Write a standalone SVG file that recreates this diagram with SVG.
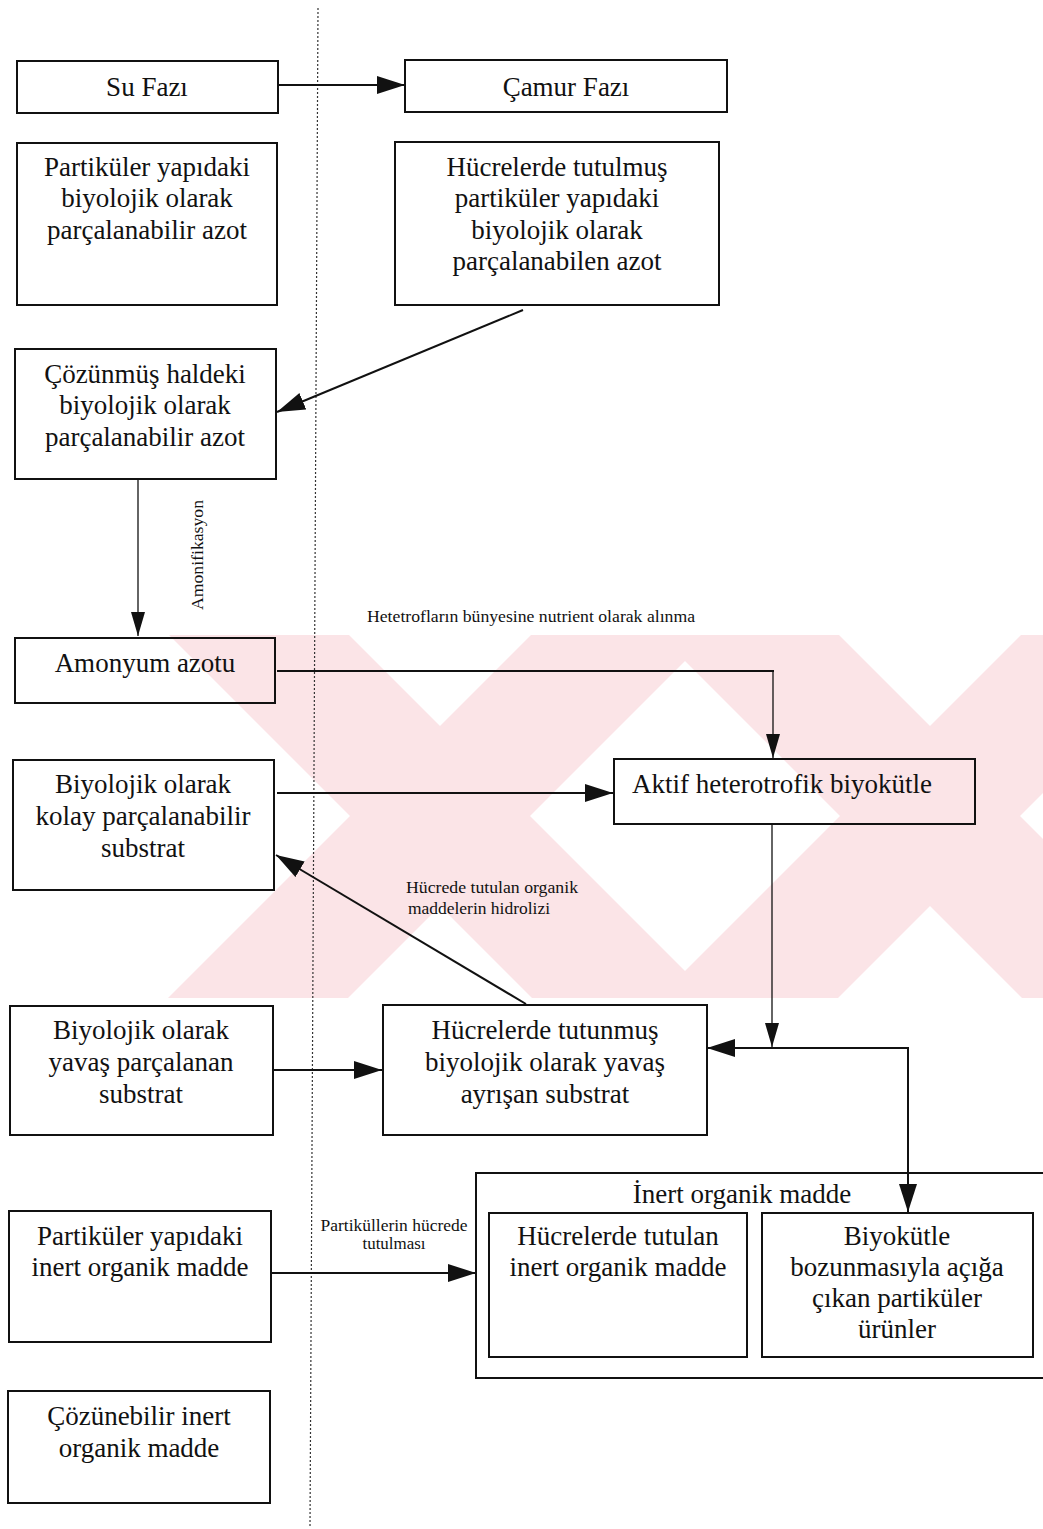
<svg xmlns="http://www.w3.org/2000/svg" width="1043" height="1529" viewBox="0 0 1043 1529">
  <style>
    .box { fill: none; stroke: #111; stroke-width: 2; }
    .t { font-family: "Liberation Serif", "Times New Roman", serif; font-size: 27px; fill: #111; text-anchor: middle; }
    .tl { font-family: "Liberation Serif", "Times New Roman", serif; font-size: 27px; fill: #111; }
    .s { font-family: "Liberation Serif", "Times New Roman", serif; font-size: 16px; fill: #111; }
    .c { fill: none; stroke: #111; stroke-width: 2; }
    .cn { fill: none; stroke: #111; stroke-width: 1.3; }
    .wm { fill: #fbe4e7; }
  </style>
  <defs>
    <marker id="big" markerUnits="userSpaceOnUse" markerWidth="30" markerHeight="20" refX="28" refY="9" orient="auto-start-reverse">
      <path d="M0,0 L28,9 L0,18 Z" fill="#111"/>
    </marker>
    <marker id="thin" markerUnits="userSpaceOnUse" markerWidth="26" markerHeight="16" refX="24" refY="7" orient="auto">
      <path d="M0,0 L24,7 L0,14 Z" fill="#111"/>
    </marker>
    <clipPath id="band">
      <rect x="0" y="635" width="1043" height="363"/>
    </clipPath>
  </defs>

  <rect width="1043" height="1529" fill="#fff"/>

  <!-- faint background mark: two crossed pairs of bars -->
  <g id="watermark" clip-path="url(#band)">
    <polygon class="wm" points="169,635 349,635 712,998 532,998"/>
    <polygon class="wm" points="531,635 711,635 348,998 168,998"/>
    <polygon class="wm" points="659,635 839,635 1202,998 1022,998"/>
    <polygon class="wm" points="1021,635 1201,635 838,998 658,998"/>
  </g>

  <!-- phase divider -->
  <line x1="318" y1="8" x2="310" y2="1527" stroke="#333" stroke-width="1.2" stroke-dasharray="2 2"/>

  <g id="su-fazi">
    <rect class="box" x="17" y="61" width="261" height="52"/>
    <text class="t" x="147" y="96">Su Fazı</text>
  </g>
  <g id="camur-fazi">
    <rect class="box" x="405" y="60" width="322" height="52"/>
    <text class="t" x="566" y="96">Çamur Fazı</text>
  </g>

  <g id="partikuler-azot">
    <rect class="box" x="17" y="143" width="260" height="162"/>
    <text class="t" x="147" y="176">Partiküler yapıdaki</text>
    <text class="t" x="147" y="207">biyolojik olarak</text>
    <text class="t" x="147" y="239">parçalanabilir azot</text>
  </g>
  <g id="hucre-partikuler-azot">
    <rect class="box" x="395" y="142" width="324" height="163"/>
    <text class="t" x="557" y="176">Hücrelerde tutulmuş</text>
    <text class="t" x="557" y="207">partiküler yapıdaki</text>
    <text class="t" x="557" y="239">biyolojik olarak</text>
    <text class="t" x="557" y="270">parçalanabilen azot</text>
  </g>

  <g id="cozunmus-azot">
    <rect class="box" x="15" y="349" width="261" height="130"/>
    <text class="t" x="145" y="383">Çözünmüş haldeki</text>
    <text class="t" x="145" y="414">biyolojik olarak</text>
    <text class="t" x="145" y="446">parçalanabilir azot</text>
  </g>

  <g id="amonyum">
    <rect class="box" x="15" y="638" width="260" height="65"/>
    <text class="t" x="145" y="672">Amonyum azotu</text>
  </g>

  <g id="kolay-substrat">
    <rect class="box" x="13" y="760" width="261" height="130"/>
    <text class="t" x="143" y="793">Biyolojik olarak</text>
    <text class="t" x="143" y="825">kolay parçalanabilir</text>
    <text class="t" x="143" y="857">substrat</text>
  </g>

  <g id="aktif-biyokutle">
    <rect class="box" x="614" y="759" width="361" height="65"/>
    <text class="tl" x="632" y="793">Aktif heterotrofik biyokütle</text>
  </g>

  <g id="yavas-substrat">
    <rect class="box" x="10" y="1006" width="263" height="129"/>
    <text class="t" x="141" y="1039">Biyolojik olarak</text>
    <text class="t" x="141" y="1071">yavaş parçalanan</text>
    <text class="t" x="141" y="1103">substrat</text>
  </g>

  <g id="hucre-yavas-substrat">
    <rect class="box" x="383" y="1005" width="324" height="130"/>
    <text class="t" x="545" y="1039">Hücrelerde tutunmuş</text>
    <text class="t" x="545" y="1071">biyolojik olarak yavaş</text>
    <text class="t" x="545" y="1103">ayrışan substrat</text>
  </g>

  <g id="partikuler-inert">
    <rect class="box" x="9" y="1211" width="262" height="131"/>
    <text class="t" x="140" y="1245">Partiküler yapıdaki</text>
    <text class="t" x="140" y="1276">inert organik madde</text>
  </g>

  <g id="inert-organik">
    <rect class="box" x="476" y="1173" width="600" height="205"/>
    <text class="t" x="742" y="1203">İnert organik madde</text>
    <g id="hucre-inert">
      <rect class="box" x="489" y="1213" width="258" height="144"/>
      <text class="t" x="618" y="1245">Hücrelerde tutulan</text>
      <text class="t" x="618" y="1276">inert organik madde</text>
    </g>
    <g id="bozunma-urunleri">
      <rect class="box" x="762" y="1213" width="271" height="144"/>
      <text class="t" x="897" y="1245">Biyokütle</text>
      <text class="t" x="897" y="1276">bozunmasıyla açığa</text>
      <text class="t" x="897" y="1307">çıkan partiküler</text>
      <text class="t" x="897" y="1338">ürünler</text>
    </g>
  </g>

  <g id="cozunebilir-inert">
    <rect class="box" x="8" y="1391" width="262" height="112"/>
    <text class="t" x="139" y="1425">Çözünebilir inert</text>
    <text class="t" x="139" y="1457">organik madde</text>
  </g>

  <g id="connectors">
    <line class="c" x1="278" y1="85" x2="405" y2="85" marker-end="url(#big)"/>
    <line class="c" x1="523" y1="310" x2="277" y2="412" marker-end="url(#big)"/>
    <line class="cn" x1="138" y1="479" x2="138" y2="636" marker-end="url(#thin)"/>
    <line class="c" x1="277" y1="671" x2="774" y2="671"/>
    <line class="cn" x1="773" y1="671" x2="773" y2="758" marker-end="url(#thin)"/>
    <line class="c" x1="277" y1="793" x2="613" y2="793" marker-end="url(#big)"/>
    <line class="c" x1="526" y1="1004" x2="276" y2="855" marker-end="url(#big)"/>
    <line class="cn" x1="772" y1="824" x2="772" y2="1047" marker-end="url(#thin)"/>
    <line class="c" x1="273" y1="1070" x2="382" y2="1070" marker-end="url(#big)"/>
    <polyline class="c" points="707,1048 908,1048 908,1212" marker-start="url(#big)" marker-end="url(#big)"/>
    <line class="c" x1="271" y1="1273" x2="476" y2="1273" marker-end="url(#big)"/>
  </g>

  <g id="connector-labels">
    <text class="s" x="0" y="0" transform="translate(203,610) rotate(-90)" textLength="110" lengthAdjust="spacingAndGlyphs">Amonifikasyon</text>
    <text class="s" x="367" y="622" textLength="328" lengthAdjust="spacingAndGlyphs">Hetetrofların bünyesine nutrient olarak alınma</text>
    <text class="s" x="406" y="893" textLength="172" lengthAdjust="spacingAndGlyphs">Hücrede tutulan organik</text>
    <text class="s" x="408" y="914" textLength="142" lengthAdjust="spacingAndGlyphs">maddelerin hidrolizi</text>
    <text class="s" x="394" y="1231" text-anchor="middle" textLength="147" lengthAdjust="spacingAndGlyphs">Partiküllerin hücrede</text>
    <text class="s" x="394" y="1249" text-anchor="middle" textLength="63" lengthAdjust="spacingAndGlyphs">tutulması</text>
  </g>
</svg>
